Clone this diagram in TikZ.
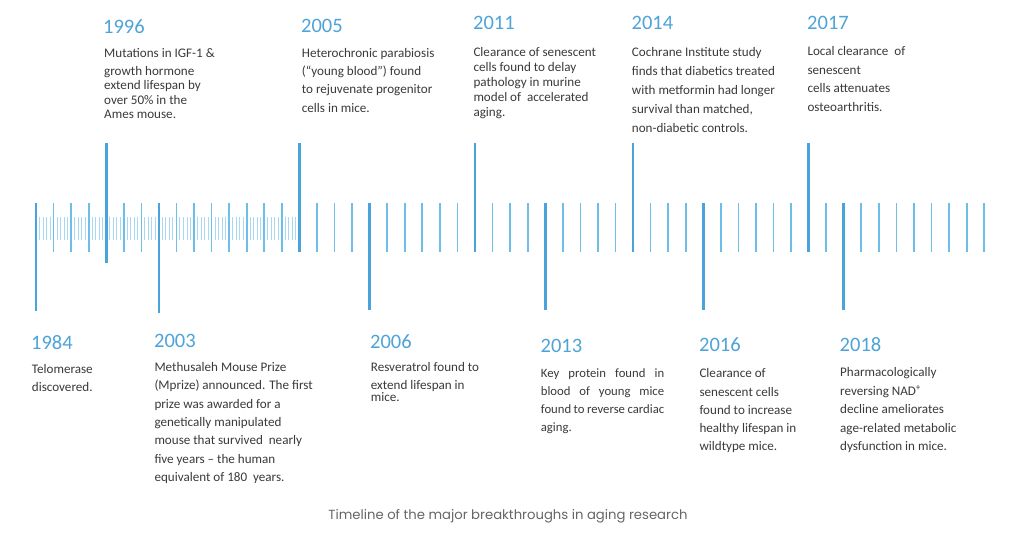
\documentclass[tikz,border=0pt]{standalone}
\usepackage{fontspec}
\setmainfont{Carlito}
\newfontfamily\capfont{Poppins}
\definecolor{yearblue}{HTML}{4EA3D8}
\definecolor{bodygray}{HTML}{3A3A3A}
\definecolor{capgray}{HTML}{666666}
\definecolor{smalltick}{HTML}{A9D8F2}
\definecolor{midtick}{HTML}{6DBEE9}
\definecolor{majtick}{HTML}{4AA3DA}
\tikzset{
  year/.style={font=\fontsize{20.5}{24}\selectfont, text=yearblue, anchor=base west, inner sep=0pt},
  body/.style={font=\fontsize{13.1}{#1}\selectfont, text=bodygray, anchor=base west, inner sep=0pt, align=left},
  smallt/.style={draw=smalltick, line width=1pt},
  midt/.style={draw=midtick, line width=1.7pt},
  majt/.style={draw=majtick, line width=2.6pt},
}
\begin{document}
\begin{tikzpicture}[x=1pt,y=-1pt]
\useasboundingbox[fill=white] (0,0) rectangle (1024,537);
% small ticks
\foreach \k in {1,...,74}{
  \pgfmathtruncatemacro{\r}{mod(\k,5)}
  \ifnum\r>0
    \draw[smallt] ({36+3.512*\k},216.7) -- ({36+3.512*\k},240);
  \fi
}
% medium ticks
\foreach \i in {0,...,54}{
  \draw[midt] ({36+17.56*\i},203.3) -- ({36+17.56*\i},251.7);
}
% major ticks up
\foreach \i/\b in {4/263, 15/251.7, 25/251.7, 34/251.7, 44/251.7}{
  \draw[majt] ({36+17.56*\i},143) -- ({36+17.56*\i},\b);
}
% major ticks down
\foreach \i/\b in {0/311, 7/313, 19/310, 29/310, 38/310, 46/310}{
  \draw[majt] ({36+17.56*\i},203) -- ({36+17.56*\i},\b);
}
% top row (body nodes anchored at the baseline of their last line)
\node[year] (y1996) at (103,33.4) {1996};
\node[body=14.5] (t1996) at (104,119) {Mutations in IGF-1 \&\\[3.9pt]growth hormone\\extend lifespan by\\over 50\% in the\\Ames mouse.};
\node[year] (y2005) at (301,32.7) {2005};
\node[body=18.3] (t2005) at (301.7,112.3) {Heterochronic parabiosis\\(“young blood”) found\\to rejuvenate progenitor\\cells in mice.};
\node[year] (y2011) at (473,29.4) {2011};
\node[body=15] (t2011) at (473.3,116.7) {Clearance of senescent\\cells found to delay\\pathology in murine\\model of \ accelerated\\aging.};
\node[year] (y2014) at (631.5,29.4) {2014};
\node[body=18.9] (t2014) at (631.7,132.3) {Cochrane Institute study\\finds that diabetics treated\\with metformin had longer\\survival than matched,\\non-diabetic controls.};
\node[year] (y2017) at (807,29.4) {2017};
\node[body=18.5] (t2017) at (807.3,111.3) {Local clearance \ of\\senescent\\cells attenuates\\osteoarthritis.};
% bottom row
\node[year] (y1984) at (31,349.4) {1984};
\node[body=18] (t1984) at (31.7,391.3) {Telomerase\\discovered.};
\node[year] (y2003) at (154,347.4) {2003};
\node[body=18.4] (t2003) at (154.3,481.7) {Methusaleh Mouse Prize\\(Mprize) announced. The first\\prize was awarded for a\\genetically manipulated\\mouse that survived \ nearly\\five years – the human\\equivalent of 180 \ years.};
\node[year] (y2006) at (370,348.4) {2006};
\node[body=17.7] (t2006) at (370.7,401.7) {Resveratrol found to\\extend lifespan in\\[-5pt]mice.};
\node[year] (y2013) at (540.5,352.7) {2013};
\node[body=18.1, font=\fontsize{12.7}{18.1}\selectfont] (t2013) at (540.7,431.7) {\makebox[123.3pt][s]{Key protein found in}\\\makebox[123.3pt][s]{blood of young mice}\\\makebox[123.3pt][s]{found to reverse cardiac}\\aging.};
\node[year] (y2016) at (699,351.7) {2016};
\node[body=18.2] (t2016) at (699.3,450.7) {Clearance of\\senescent cells\\found to increase\\healthy lifespan in\\wildtype mice.};
\node[year] (y2018) at (839.5,351) {2018};
\node[body=18.5] (t2018) at (840,450.7) {Pharmacologically\\reversing NAD\textsuperscript{+}\\decline ameliorates\\age-related metabolic\\dysfunction in mice.};
% caption
\node[font=\capfont\fontsize{13.2}{16}\selectfont, text=capgray, anchor=base, inner sep=0pt] (cap) at (508,519.5) {Timeline of the major breakthroughs in aging research};
\end{tikzpicture}
\end{document}
